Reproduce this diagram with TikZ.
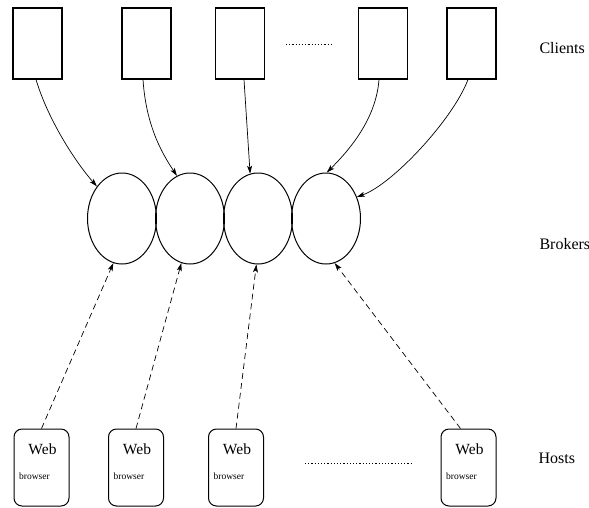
\documentclass[tikz,border=0pt]{standalone}
\usepackage{fontspec}
\setmainfont{Liberation Serif}
\usetikzlibrary{shapes.geometric, positioning, arrows.meta}

\begin{document}
\begin{tikzpicture}[x=1pt,y=-1pt,on grid,
   client/.style={draw,line width=1.1pt,minimum width=49pt,minimum height=71pt,inner sep=0pt},
   broker/.style={draw,ellipse,line width=1pt,minimum width=69pt,minimum height=91pt,inner sep=0pt},
   host/.style={draw,rounded corners=8pt,line width=1pt,minimum width=55pt,minimum height=77pt,inner sep=0pt},
   request/.style={-{Stealth[length=8pt,width=5pt,inset=2pt]},line width=0.7pt},
   offer/.style={request,dash pattern=on 6pt off 4pt},
   etc/.style={line width=1pt,dash pattern=on 1.2pt off 2pt},
   tier/.style={anchor=base west,font=\fontsize{16}{18}\selectfont},
   web/.style={anchor=base,font=\fontsize{15.5}{17}\selectfont},
   brw/.style={anchor=base,font=\fontsize{9.5}{11}\selectfont}]

   \useasboundingbox (0,0) rectangle (589,507);

   % clients
   \node[client] (c1) at (37.5,43.5) {};
   \node[client] (c2) [right=109pt of c1] {};
   \node[client] (c3) [right=93.5pt of c2] {};
   \node[client] (c4) [right=143pt of c3] {};
   \node[client] (c5) [right=88.5pt of c4] {};
   \draw[etc] (286,44) -- (331,44);
   \node[tier] (lc) at (536,53) {Clients};

   % brokers
   \node[broker] (b1) at (122,218.5) {};
   \node[broker] (b2) [right=68pt of b1] {};
   \node[broker] (b3) [right=68pt of b2] {};
   \node[broker] (b4) [right=68pt of b3] {};
   \node[tier] (lb) at (536,249) {Brokers};

   % hosts
   \node[host] (h1) at (41.5,467.5) {};
   \node[host] (h2) [right=94.5pt of h1] {};
   \node[host] (h3) [right=100pt of h2] {};
   \node[host] (h4) [right=232.5pt of h3] {};
   \foreach \h in {h1,h2,h3,h4} {
      \node[web] at ([xshift=1pt,yshift=13.5pt]\h.center) {Web};
      \node[brw] at ([xshift=-7pt,yshift=-11.5pt]\h.center) {browser};
   }
   \draw[etc] (305,463) -- (412,463);
   \node[tier] (lh) at (535,463) {Hosts};

   \draw[request] ([xshift=-1.5pt]c1.south) .. controls +(12,40) and +(-22,-25) .. (b1.128);
   \draw[request] ([xshift=-3.5pt]c2.south) .. controls +(3,45) and +(-16,-24) .. (b2.107);
   \draw[request] ([xshift=4pt]c3.south) -- (b3.100);
   \draw[request] ([xshift=-4pt]c4.south) .. controls +(-3,40) and +(22,-22) .. (b4.89);
   \draw[request] ([xshift=-3.5pt]c5.south) .. controls +(-15,40) and +(35,-12) .. (b4.35);

   \draw[offer] (h1.north) -- (b1.259);
   \draw[offer] (h2.north) -- (b2.259);
   \draw[offer] (h3.north) -- (b3.268);
   \draw[offer] ([xshift=-8pt]h4.north) -- (b4.281);

\end{tikzpicture}
\end{document}
